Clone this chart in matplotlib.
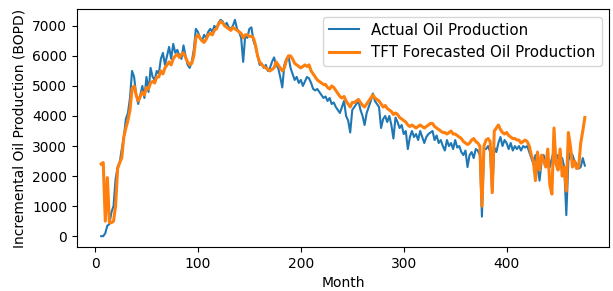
import numpy as np
import matplotlib
matplotlib.use("Agg")
import matplotlib.pyplot as plt

months = list(range(6, 478, 2))

actual = [
    0, 0, 100, 350, 400, 800, 1000, 1900, 2300, 2450,
    2900, 3300, 3900, 4100, 4600, 5500, 5300, 4700, 4400, 4700,
    5000, 4600, 5300, 4800, 5600, 5300, 5200, 5500, 5400, 5900,
    6100, 5700, 6000, 6300, 5900, 6400, 6100, 6200, 6000, 5900,
    6350, 6000, 5700, 5600, 5800, 6200, 6900, 6800, 6600, 6500,
    6700, 6600, 6800, 6900, 6800, 7000, 6900, 7100, 7200, 7150,
    7000, 7100, 6950, 6900, 7000, 7200, 6900, 6800, 6600, 5800,
    6700, 6600, 6900, 6950, 6500, 6300, 6000, 5700, 5750, 5600,
    5700, 5500, 5600, 5800, 5950, 5700, 5600, 5300, 4950, 5700,
    5900, 6000, 5600, 5400, 5200, 5300, 5100, 5200, 5000, 5150,
    5300, 5250, 5100, 4900, 4850, 4900, 4800, 4700, 4600, 4650,
    4500, 4600, 4400, 4450, 4300, 4200, 4100, 4300, 4500, 4000,
    3850, 3450, 4200, 4300, 4400, 4500, 4200, 4000, 3700, 4100,
    4300, 4500, 4750, 4500, 4400, 4300, 3600, 3900, 4000, 3800,
    4000, 3700, 3250, 3950, 3800, 3600, 3700, 3400, 3500, 2900,
    3300, 3500, 3300, 3400, 3200, 3500, 3300, 3100, 3300, 3400,
    3450, 3500, 3200, 3350, 3100, 3200, 3000, 2850, 3200, 3000,
    3100, 2900, 3200, 2950, 3000, 2800, 2700, 2850, 2300, 2700,
    2800, 2600, 2900, 2850, 2700, 650, 2900, 2900, 3000, 2800,
    1450, 2950, 2800, 3100, 3300, 3000, 3200, 3100, 2900, 3100,
    2850, 3000, 2900, 3000, 2850, 3000, 2950, 3000, 2800, 2600,
    2400, 2700, 2300, 1850, 2500, 2700, 2400, 2500, 2300, 2600,
    2850, 2500, 2700, 2450, 2600, 2300, 700, 2500, 2800, 2700,
    2500, 2400, 2250, 2300, 2600, 2350,
]

forecast = [
    2400, 2450, 500, 1950, 450, 450, 500, 1000, 2250, 2450,
    2600, 3300, 3600, 3850, 4200, 4900, 5000, 4700, 4500, 4650,
    4800, 4700, 4950, 4900, 5100, 5150, 5100, 5300, 5300, 5500,
    5400, 5600, 5700, 5800, 5700, 5900, 6000, 6050, 5950, 6050,
    6100, 5950, 5800, 5700, 5750, 6000, 6600, 6700, 6600, 6500,
    6450, 6550, 6700, 6750, 6700, 6850, 6900, 7050, 7150, 7100,
    7000, 6950, 6900, 6850, 6950, 6900, 6850, 6800, 6750, 6600,
    6700, 6700, 6650, 6650, 6600, 6350, 6000, 5800, 5700, 5650,
    5600, 5550, 5500, 5550, 5600, 5800, 5700, 5600, 5500, 5600,
    5850, 6000, 6000, 5900, 5750, 5700, 5650, 5600, 5650, 5700,
    5650, 5700, 5500, 5400, 5300, 5200, 5150, 5100, 5050, 5050,
    4950, 4900, 5000, 4950, 4850, 4750, 4650, 4600, 4650, 4500,
    4400, 4300, 4450, 4450, 4500, 4550, 4450, 4350, 4300, 4400,
    4500, 4600, 4700, 4600, 4550, 4500, 4400, 4300, 4350, 4250,
    4200, 4150, 4050, 4100, 4050, 3950, 3900, 3850, 3800, 3700,
    3650, 3700, 3650, 3600, 3650, 3700, 3650, 3600, 3650, 3700,
    3750, 3750, 3650, 3600, 3550, 3500, 3450, 3450, 3400, 3450,
    3500, 3400, 3400, 3350, 3300, 3250, 3150, 3100, 3050, 3100,
    3200, 3250, 3150, 3100, 3000, 1000, 3000, 3200, 3250, 3150,
    1450, 3500, 3600, 3700, 3550, 3450, 3400, 3450, 3350, 3300,
    3250, 3250, 3200, 3200, 3100, 3150, 3200, 3150, 3000, 2700,
    2500, 1850, 2800, 2200, 2700, 2500, 2300, 2900, 1700, 1400,
    3600, 2400, 2200, 2900, 2000, 2300, 1500, 3450, 3000, 2300,
    2500, 2250, 2300, 3100, 3500, 3950,
]

fig = plt.figure(figsize=(6.13, 2.91), dpi=100)
ax = fig.add_axes([0.1256, 0.1512, 0.8679, 0.8178])
ax.plot(months, actual, color="tab:blue", lw=1.5, label="Actual Oil Production")
ax.plot(months, forecast, color="tab:orange", lw=2.2, label="TFT Forecasted Oil Production")
ax.set_xlabel("Month")
ax.set_ylabel("Incremental Oil Production (BOPD)")
ax.set_xticks([0, 100, 200, 300, 400])
ax.set_yticks([0, 1000, 2000, 3000, 4000, 5000, 6000, 7000])
ax.legend(loc="upper right", fontsize=10.8)
fig.savefig("out.png", dpi=100)
